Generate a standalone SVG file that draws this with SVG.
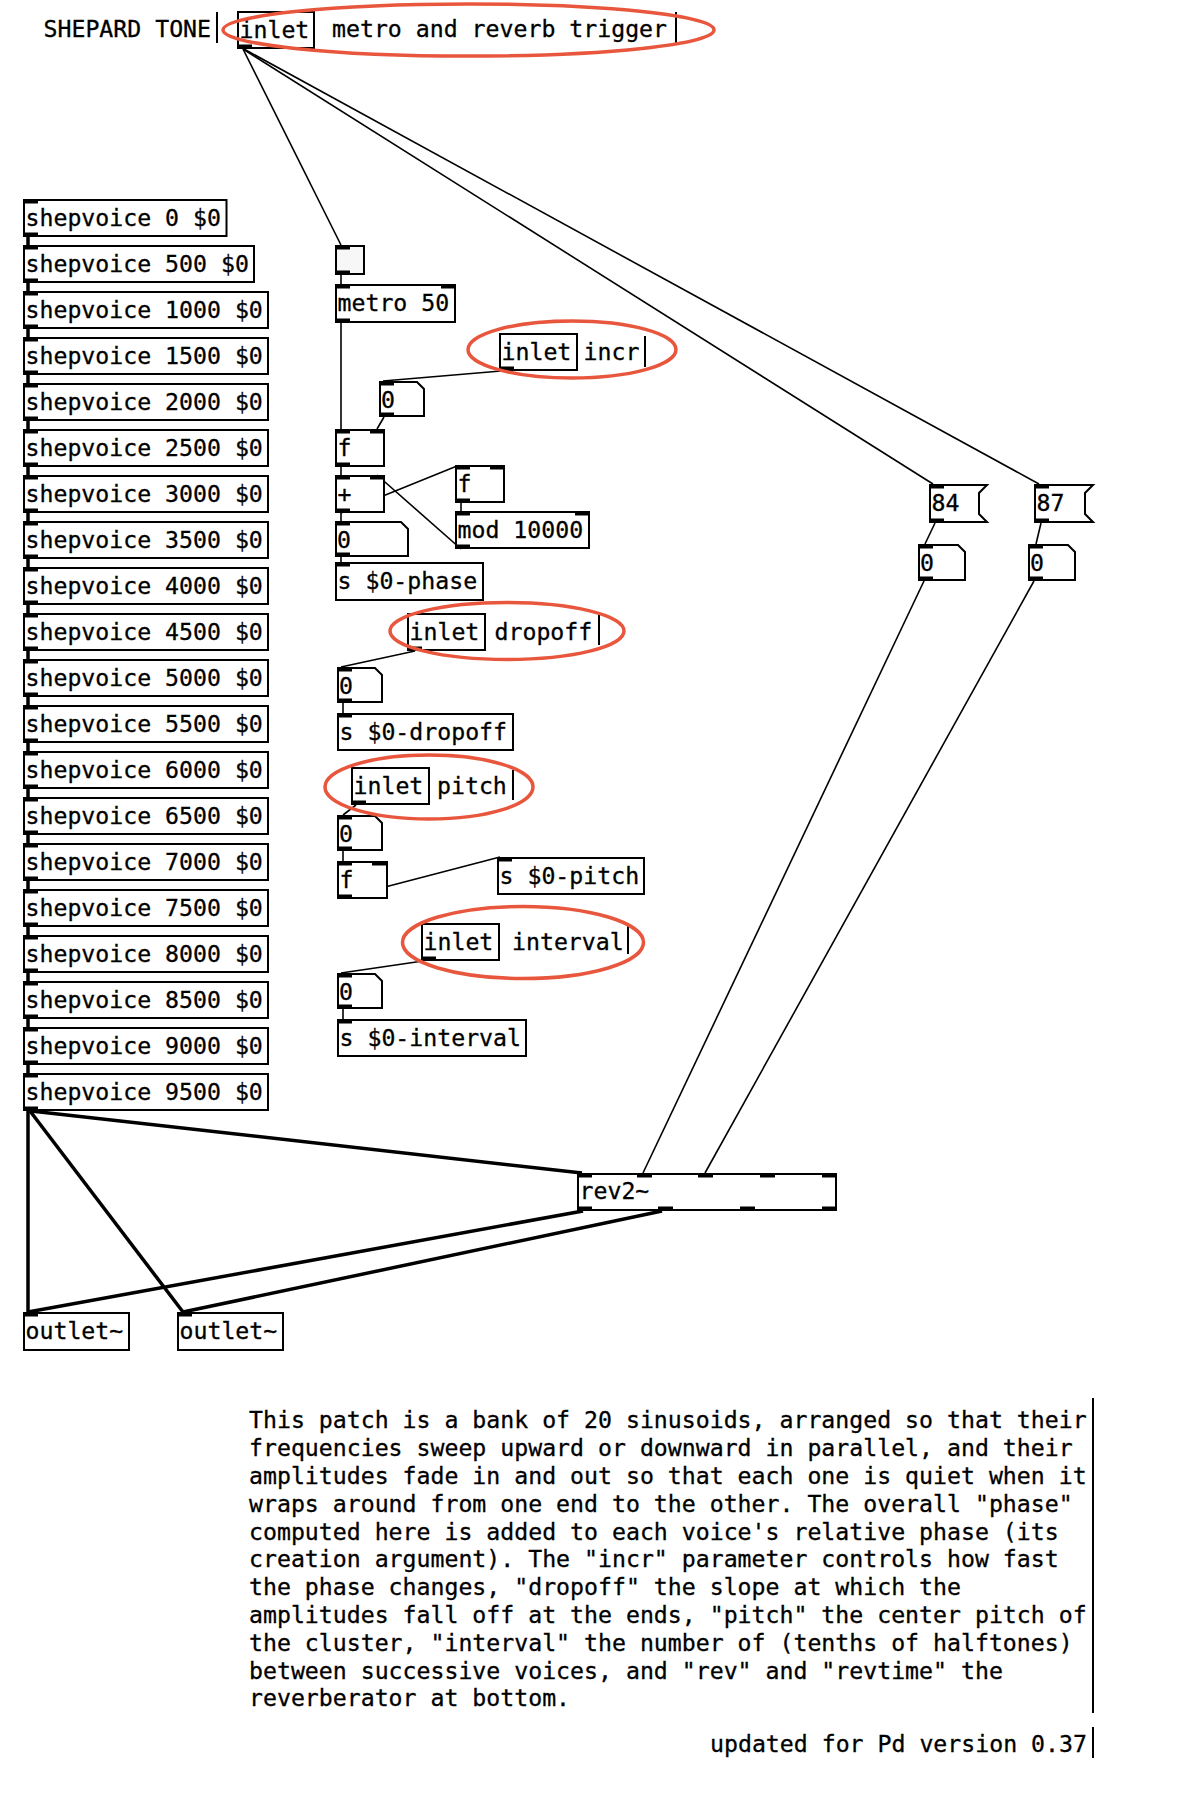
<svg xmlns="http://www.w3.org/2000/svg" width="1178" height="1814" viewBox="0 0 1178 1814">
<style>
.b{fill:#fff;stroke:#000;stroke-width:2}
.io{fill:#000}
.t{font-family:"DejaVu Sans Mono","Liberation Mono",monospace;font-size:23.2px;fill:#000;stroke:#000;stroke-width:0.3}
.c{stroke:#000;stroke-width:1.6;fill:none}
.s{stroke:#000;stroke-width:3.5;fill:none}
.bar{stroke:#000;stroke-width:2}
.hl{fill:none;stroke:#e8573d;stroke-width:3.5}
</style>
<rect x="0" y="0" width="1178" height="1814" fill="#fff"/>

<g id="comments">
<text class="t" x="43.5" y="36.5">SHEPARD TONE</text>
<line class="bar" x1="217" y1="12" x2="217" y2="43"/>
<text class="t" x="332" y="37">metro and reverb trigger</text>
<line class="bar" x1="676" y1="12" x2="676" y2="43"/>
<text class="t" x="583.5" y="360">incr</text>
<line class="bar" x1="645" y1="336" x2="645" y2="367"/>
<text class="t" x="494.5" y="640">dropoff</text>
<line class="bar" x1="599" y1="615" x2="599" y2="645"/>
<text class="t" x="437" y="794">pitch</text>
<line class="bar" x1="513" y1="770" x2="513" y2="800"/>
<text class="t" x="512" y="950">interval</text>
<line class="bar" x1="628" y1="923" x2="628" y2="954"/>
<g id="description">
<text class="t" x="249" y="1428.3">This patch is a bank of 20 sinusoids, arranged so that their</text>
<text class="t" x="249" y="1456.1">frequencies sweep upward or downward in parallel, and their</text>
<text class="t" x="249" y="1483.9">amplitudes fade in and out so that each one is quiet when it</text>
<text class="t" x="249" y="1511.7">wraps around from one end to the other. The overall "phase"</text>
<text class="t" x="249" y="1539.5">computed here is added to each voice's relative phase (its</text>
<text class="t" x="249" y="1567.3">creation argument). The "incr" parameter controls how fast</text>
<text class="t" x="249" y="1595.1">the phase changes, "dropoff" the slope at which the</text>
<text class="t" x="249" y="1622.9">amplitudes fall off at the ends, "pitch" the center pitch of</text>
<text class="t" x="249" y="1650.7">the cluster, "interval" the number of (tenths of halftones)</text>
<text class="t" x="249" y="1678.5">between successive voices, and "rev" and "revtime" the</text>
<text class="t" x="249" y="1706.3">reverberator at bottom.</text>
<line class="bar" x1="1093" y1="1398" x2="1093" y2="1713"/>
</g>
<text class="t" x="710" y="1751.5">updated for Pd version 0.37</text>
<line class="bar" x1="1093" y1="1727" x2="1093" y2="1758"/>
</g>

<g id="connectors">
<path class="c" d="M243,49 L341,245"/>
<path class="c" d="M243,49 L933,484"/>
<path class="c" d="M244,49 L1039,484"/>
<path class="c" d="M341,275 L341,284"/>
<path class="c" d="M341,323 L341,429"/>
<path class="c" d="M501,371 L383,381"/>
<path class="c" d="M384,417 L377,429"/>
<path class="c" d="M341,467 L341,475"/>
<path class="c" d="M341,513 L457,466"/>
<path class="c" d="M461,503 L461,511"/>
<path class="c" d="M461,549 L377,475"/>
<path class="c" d="M341,513 L341,521"/>
<path class="c" d="M341,557 L341,562"/>
<path class="c" d="M415,651 L341,667"/>
<path class="c" d="M343,703 L343,713"/>
<path class="c" d="M356,805 L343,815"/>
<path class="c" d="M343,851 L343,861"/>
<path class="c" d="M343,898 L500,857"/>
<path class="c" d="M423,961 L341,973"/>
<path class="c" d="M343,1009 L343,1019"/>
<path class="c" d="M935,523 L925,544"/>
<path class="c" d="M1041,523 L1036,544"/>
<path class="c" d="M924,581 L643,1173"/>
<path class="c" d="M1034,581 L705,1173"/>
<path class="s" d="M28,237 V245 M28,283 V291 M28,329 V337 M28,375 V383 M28,421 V429 M28,467 V475 M28,513 V521 M28,559 V567 M28,605 V613 M28,651 V659 M28,697 V705 M28,743 V751 M28,789 V797 M28,835 V843 M28,881 V889 M28,927 V935 M28,973 V981 M28,1019 V1027 M28,1065 V1073"/>
<path class="s" d="M28,1111 L28,1312"/>
<path class="s" d="M30,1111 L183,1312"/>
<path class="s" d="M31,1111 L582,1173"/>
<path class="s" d="M583,1211 L28,1312"/>
<path class="s" d="M662,1211 L183,1312"/>
</g>

<g id="inlet-main"><rect class="b" x="238" y="12" width="76" height="36"/><rect class="io" x="237" y="44.5" width="15" height="4.5"/><text class="t" x="239.5" y="38">inlet</text></g>

<g id="sv0"><rect class="b" x="24" y="200" width="202.5" height="36"/><rect class="io" x="23" y="199" width="15" height="4.5"/><rect class="io" x="23" y="232.5" width="15" height="4.5"/><text class="t" x="25.5" y="226">shepvoice 0 $0</text></g>
<g id="sv500"><rect class="b" x="24" y="246" width="230" height="36"/><rect class="io" x="23" y="245" width="15" height="4.5"/><rect class="io" x="23" y="278.5" width="15" height="4.5"/><text class="t" x="25.5" y="272">shepvoice 500 $0</text></g>
<g id="sv1000"><rect class="b" x="24" y="292" width="244" height="36"/><rect class="io" x="23" y="291" width="15" height="4.5"/><rect class="io" x="23" y="324.5" width="15" height="4.5"/><text class="t" x="25.5" y="318">shepvoice 1000 $0</text></g>
<g id="sv1500"><rect class="b" x="24" y="338" width="244" height="36"/><rect class="io" x="23" y="337" width="15" height="4.5"/><rect class="io" x="23" y="370.5" width="15" height="4.5"/><text class="t" x="25.5" y="364">shepvoice 1500 $0</text></g>
<g id="sv2000"><rect class="b" x="24" y="384" width="244" height="36"/><rect class="io" x="23" y="383" width="15" height="4.5"/><rect class="io" x="23" y="416.5" width="15" height="4.5"/><text class="t" x="25.5" y="410">shepvoice 2000 $0</text></g>
<g id="sv2500"><rect class="b" x="24" y="430" width="244" height="36"/><rect class="io" x="23" y="429" width="15" height="4.5"/><rect class="io" x="23" y="462.5" width="15" height="4.5"/><text class="t" x="25.5" y="456">shepvoice 2500 $0</text></g>
<g id="sv3000"><rect class="b" x="24" y="476" width="244" height="36"/><rect class="io" x="23" y="475" width="15" height="4.5"/><rect class="io" x="23" y="508.5" width="15" height="4.5"/><text class="t" x="25.5" y="502">shepvoice 3000 $0</text></g>
<g id="sv3500"><rect class="b" x="24" y="522" width="244" height="36"/><rect class="io" x="23" y="521" width="15" height="4.5"/><rect class="io" x="23" y="554.5" width="15" height="4.5"/><text class="t" x="25.5" y="548">shepvoice 3500 $0</text></g>
<g id="sv4000"><rect class="b" x="24" y="568" width="244" height="36"/><rect class="io" x="23" y="567" width="15" height="4.5"/><rect class="io" x="23" y="600.5" width="15" height="4.5"/><text class="t" x="25.5" y="594">shepvoice 4000 $0</text></g>
<g id="sv4500"><rect class="b" x="24" y="614" width="244" height="36"/><rect class="io" x="23" y="613" width="15" height="4.5"/><rect class="io" x="23" y="646.5" width="15" height="4.5"/><text class="t" x="25.5" y="640">shepvoice 4500 $0</text></g>
<g id="sv5000"><rect class="b" x="24" y="660" width="244" height="36"/><rect class="io" x="23" y="659" width="15" height="4.5"/><rect class="io" x="23" y="692.5" width="15" height="4.5"/><text class="t" x="25.5" y="686">shepvoice 5000 $0</text></g>
<g id="sv5500"><rect class="b" x="24" y="706" width="244" height="36"/><rect class="io" x="23" y="705" width="15" height="4.5"/><rect class="io" x="23" y="738.5" width="15" height="4.5"/><text class="t" x="25.5" y="732">shepvoice 5500 $0</text></g>
<g id="sv6000"><rect class="b" x="24" y="752" width="244" height="36"/><rect class="io" x="23" y="751" width="15" height="4.5"/><rect class="io" x="23" y="784.5" width="15" height="4.5"/><text class="t" x="25.5" y="778">shepvoice 6000 $0</text></g>
<g id="sv6500"><rect class="b" x="24" y="798" width="244" height="36"/><rect class="io" x="23" y="797" width="15" height="4.5"/><rect class="io" x="23" y="830.5" width="15" height="4.5"/><text class="t" x="25.5" y="824">shepvoice 6500 $0</text></g>
<g id="sv7000"><rect class="b" x="24" y="844" width="244" height="36"/><rect class="io" x="23" y="843" width="15" height="4.5"/><rect class="io" x="23" y="876.5" width="15" height="4.5"/><text class="t" x="25.5" y="870">shepvoice 7000 $0</text></g>
<g id="sv7500"><rect class="b" x="24" y="890" width="244" height="36"/><rect class="io" x="23" y="889" width="15" height="4.5"/><rect class="io" x="23" y="922.5" width="15" height="4.5"/><text class="t" x="25.5" y="916">shepvoice 7500 $0</text></g>
<g id="sv8000"><rect class="b" x="24" y="936" width="244" height="36"/><rect class="io" x="23" y="935" width="15" height="4.5"/><rect class="io" x="23" y="968.5" width="15" height="4.5"/><text class="t" x="25.5" y="962">shepvoice 8000 $0</text></g>
<g id="sv8500"><rect class="b" x="24" y="982" width="244" height="36"/><rect class="io" x="23" y="981" width="15" height="4.5"/><rect class="io" x="23" y="1014.5" width="15" height="4.5"/><text class="t" x="25.5" y="1008">shepvoice 8500 $0</text></g>
<g id="sv9000"><rect class="b" x="24" y="1028" width="244" height="36"/><rect class="io" x="23" y="1027" width="15" height="4.5"/><rect class="io" x="23" y="1060.5" width="15" height="4.5"/><text class="t" x="25.5" y="1054">shepvoice 9000 $0</text></g>
<g id="sv9500"><rect class="b" x="24" y="1074" width="244" height="36"/><rect class="io" x="23" y="1073" width="15" height="4.5"/><rect class="io" x="23" y="1106.5" width="15" height="4.5"/><text class="t" x="25.5" y="1100">shepvoice 9500 $0</text></g>

<g id="bang"><rect x="336" y="246" width="28" height="28" fill="#f7f7f7" stroke="#000" stroke-width="2"/><rect class="io" x="335" y="245" width="15" height="4.5"/><rect class="io" x="335" y="270.5" width="15" height="4.5"/></g>
<g id="metro"><rect class="b" x="336" y="285" width="119" height="37"/><rect class="io" x="335" y="284" width="15" height="4.5"/><rect class="io" x="441" y="284" width="15" height="4.5"/><rect class="io" x="335" y="318.5" width="15" height="4.5"/><text class="t" x="337.5" y="311">metro 50</text></g>
<g id="inlet-incr"><rect class="b" x="500" y="334" width="77" height="36"/><rect class="io" x="499" y="366.5" width="15" height="4.5"/><text class="t" x="501.5" y="360">inlet</text></g>
<g id="num-incr"><path class="b" d="M380,382 H417 L424,389 V416 H380 Z"/><rect class="io" x="379" y="381" width="15" height="4.5"/><rect class="io" x="379" y="412.5" width="15" height="4.5"/><text class="t" x="381" y="408">0</text></g>
<g id="f1"><rect class="b" x="336" y="430" width="48" height="36"/><rect class="io" x="335" y="429" width="15" height="4.5"/><rect class="io" x="370" y="429" width="15" height="4.5"/><rect class="io" x="335" y="462.5" width="15" height="4.5"/><text class="t" x="337.5" y="456">f</text></g>
<g id="plus"><rect class="b" x="336" y="476" width="48" height="36"/><rect class="io" x="335" y="475" width="15" height="4.5"/><rect class="io" x="370" y="475" width="15" height="4.5"/><rect class="io" x="335" y="508.5" width="15" height="4.5"/><text class="t" x="337.5" y="502">+</text></g>
<g id="f2"><rect class="b" x="456" y="466" width="48" height="36"/><rect class="io" x="455" y="465" width="15" height="4.5"/><rect class="io" x="490" y="465" width="15" height="4.5"/><rect class="io" x="455" y="498.5" width="15" height="4.5"/><text class="t" x="457.5" y="492">f</text></g>
<g id="mod"><rect class="b" x="456" y="512" width="133" height="36"/><rect class="io" x="455" y="511" width="15" height="4.5"/><rect class="io" x="575" y="511" width="15" height="4.5"/><rect class="io" x="455" y="544.5" width="15" height="4.5"/><text class="t" x="457.5" y="538">mod 10000</text></g>
<g id="num-phase"><path class="b" d="M336,522 H401 L408,529 V556 H336 Z"/><rect class="io" x="335" y="521" width="15" height="4.5"/><rect class="io" x="335" y="552.5" width="15" height="4.5"/><text class="t" x="337" y="548">0</text></g>
<g id="s-phase"><rect class="b" x="336" y="563" width="147" height="37"/><rect class="io" x="335" y="562" width="15" height="4.5"/><text class="t" x="337.5" y="589">s $0-phase</text></g>

<g id="inlet-dropoff"><rect class="b" x="408" y="614" width="77" height="36"/><rect class="io" x="407" y="646.5" width="15" height="4.5"/><text class="t" x="409.5" y="640">inlet</text></g>
<g id="num-dropoff"><path class="b" d="M338,668 H375 L382,675 V702 H338 Z"/><rect class="io" x="337" y="667" width="15" height="4.5"/><rect class="io" x="337" y="698.5" width="15" height="4.5"/><text class="t" x="339" y="694">0</text></g>
<g id="s-dropoff"><rect class="b" x="338" y="714" width="175" height="36"/><rect class="io" x="337" y="713" width="15" height="4.5"/><text class="t" x="339.5" y="740">s $0-dropoff</text></g>

<g id="inlet-pitch"><rect class="b" x="352" y="768" width="77" height="36"/><rect class="io" x="351" y="800.5" width="15" height="4.5"/><text class="t" x="353.5" y="794">inlet</text></g>
<g id="num-pitch"><path class="b" d="M338,816 H375 L382,823 V850 H338 Z"/><rect class="io" x="337" y="815" width="15" height="4.5"/><rect class="io" x="337" y="846.5" width="15" height="4.5"/><text class="t" x="339" y="842">0</text></g>
<g id="f3"><rect class="b" x="338" y="862" width="49" height="36"/><rect class="io" x="337" y="861" width="15" height="4.5"/><rect class="io" x="372" y="861" width="15" height="4.5"/><rect class="io" x="337" y="894.5" width="15" height="4.5"/><text class="t" x="339.5" y="888">f</text></g>
<g id="s-pitch"><rect class="b" x="498" y="858" width="146" height="36"/><rect class="io" x="497" y="857" width="15" height="4.5"/><text class="t" x="499.5" y="884">s $0-pitch</text></g>

<g id="inlet-interval"><rect class="b" x="422" y="924" width="77" height="36"/><rect class="io" x="421" y="956.5" width="15" height="4.5"/><text class="t" x="423.5" y="950">inlet</text></g>
<g id="num-interval"><path class="b" d="M338,974 H375 L382,981 V1008 H338 Z"/><rect class="io" x="337" y="973" width="15" height="4.5"/><rect class="io" x="337" y="1004.5" width="15" height="4.5"/><text class="t" x="339" y="1000">0</text></g>
<g id="s-interval"><rect class="b" x="338" y="1020" width="188" height="36"/><rect class="io" x="337" y="1019" width="15" height="4.5"/><text class="t" x="339.5" y="1046">s $0-interval</text></g>

<g id="msg84"><path class="b" d="M930,485 H987 L979,493 V514 L987,522 H930 Z"/><rect class="io" x="929" y="484" width="15" height="4.5"/><rect class="io" x="929" y="518.5" width="15" height="4.5"/><text class="t" x="931.5" y="511">84</text></g>
<g id="msg87"><path class="b" d="M1035,485 H1093 L1085,493 V514 L1093,522 H1035 Z"/><rect class="io" x="1034" y="484" width="15" height="4.5"/><rect class="io" x="1034" y="518.5" width="15" height="4.5"/><text class="t" x="1036.5" y="511">87</text></g>
<g id="num84"><path class="b" d="M919,545 H958 L965,552 V580 H919 Z"/><rect class="io" x="918" y="544" width="15" height="4.5"/><rect class="io" x="918" y="576.5" width="15" height="4.5"/><text class="t" x="920" y="571">0</text></g>
<g id="num87"><path class="b" d="M1029,545 H1068 L1075,552 V580 H1029 Z"/><rect class="io" x="1028" y="544" width="15" height="4.5"/><rect class="io" x="1028" y="576.5" width="15" height="4.5"/><text class="t" x="1030" y="571">0</text></g>

<g id="rev2"><rect class="b" x="578" y="1174" width="258" height="36"/>
<rect class="io" x="577" y="1173" width="15" height="4.5"/><rect class="io" x="637" y="1173" width="15" height="4.5"/><rect class="io" x="698" y="1173" width="15" height="4.5"/><rect class="io" x="760" y="1173" width="15" height="4.5"/><rect class="io" x="822" y="1173" width="15" height="4.5"/>
<rect class="io" x="577" y="1206.5" width="15" height="4.5"/><rect class="io" x="658" y="1206.5" width="15" height="4.5"/><rect class="io" x="740" y="1206.5" width="15" height="4.5"/><rect class="io" x="822" y="1206.5" width="15" height="4.5"/>
<text class="t" x="579.5" y="1199">rev2~</text></g>
<g id="outlet1"><rect class="b" x="24" y="1313" width="105" height="37"/><rect class="io" x="23" y="1312" width="15" height="4.5"/><text class="t" x="25.5" y="1339">outlet~</text></g>
<g id="outlet2"><rect class="b" x="178" y="1313" width="105" height="37"/><rect class="io" x="177" y="1312" width="15" height="4.5"/><text class="t" x="179.5" y="1339">outlet~</text></g>

<g id="highlights">
<ellipse class="hl" cx="468.5" cy="30" rx="245.5" ry="26"/>
<ellipse class="hl" cx="572" cy="349.5" rx="104" ry="28.5"/>
<ellipse class="hl" cx="507" cy="631" rx="117" ry="28.5"/>
<ellipse class="hl" cx="429" cy="787" rx="104" ry="32"/>
<ellipse class="hl" cx="523" cy="942.5" rx="120.5" ry="36"/>
</g>
</svg>
